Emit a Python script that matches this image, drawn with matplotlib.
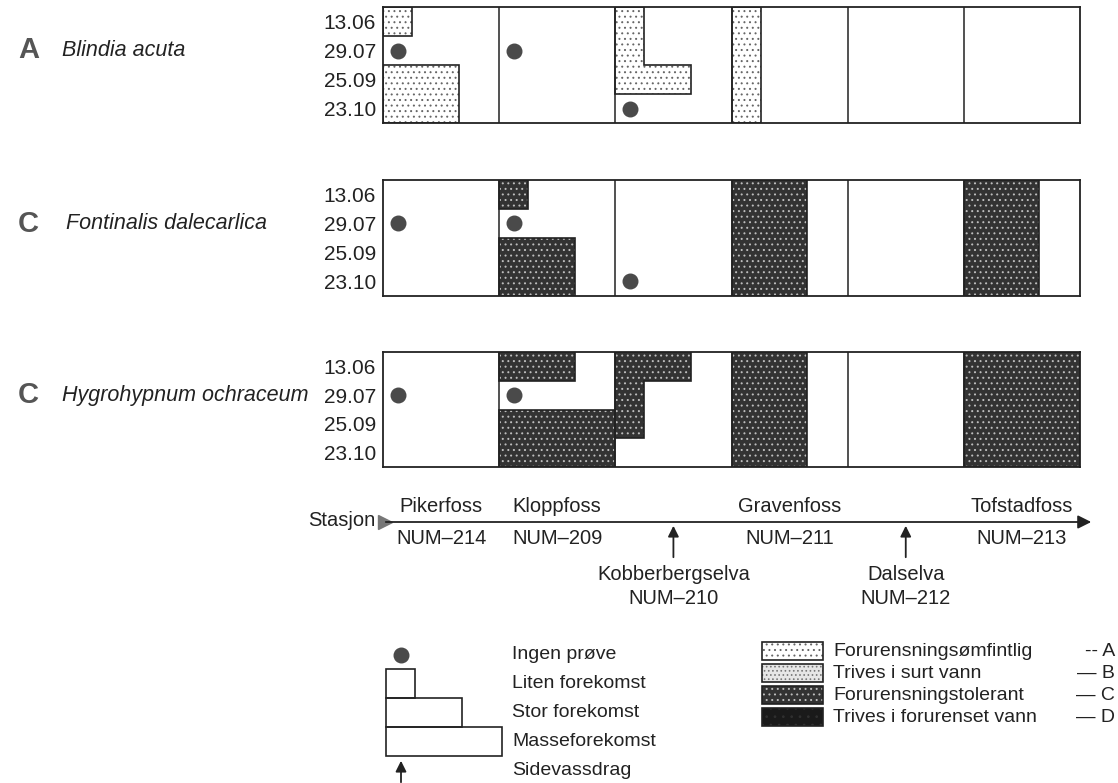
import matplotlib
matplotlib.use('Agg')
import matplotlib.pyplot as plt
from matplotlib.patches import Polygon, Rectangle
from matplotlib import transforms

plt.rcParams['font.family'] = ['Liberation Sans', 'DejaVu Sans']
plt.rcParams['hatch.linewidth'] = 0.7

# data
dates = ['13.06', '29.07', '25.09', '23.10']
stations = ['Pikerfoss', 'Kloppfoss', 'Kobberbergselva', 'Gravenfoss', 'Dalselva', 'Tofstadfoss']
codes = ['NUM\u2013214', 'NUM\u2013209', 'NUM\u2013210', 'NUM\u2013211', 'NUM\u2013212', 'NUM\u2013213']
side_stream = [False, False, True, False, True, False]

# level per station (rows = dates): 0 none, 1 liten, 2 stor, 3 masse, -1 ingen prøve
panel_cat = ['A', 'C', 'C']
species = ['Blindia acuta', 'Fontinalis dalecarlica', 'Hygrohypnum ochraceum']
blindia = [[1, -1, 2, 2], [0, -1, 0, 0], [1, 1, 2, -1], [1, 1, 1, 1], [0, 0, 0, 0], [0, 0, 0, 0]]
fontinalis = [[0, -1, 0, 0], [1, -1, 2, 2], [0, 0, 0, -1], [2, 2, 2, 2], [0, 0, 0, 0], [2, 2, 2, 2]]
hygro = [[0, -1, 0, 0], [2, -1, 3, 3], [2, 1, 1, 0], [2, 2, 2, 2], [0, 0, 0, 0], [3, 3, 3, 3]]
levels_all = [blindia, fontinalis, hygro]

size_labels = ['Ingen prøve', 'Liten forekomst', 'Stor forekomst', 'Masseforekomst', 'Sidevassdrag']
cat_labels = ['Forurensningsømfintlig', 'Trives i surt vann', 'Forurensningstolerant', 'Trives i forurenset vann']
cat_keys = ['A', 'B', 'C', 'D']
cat_suffix = ['-- A', '\u2014 B', '\u2014 C', '\u2014 D']

# styles
W, H = 1118, 783
widths = {1: 0.25, 2: 0.65, 3: 1.0}
fills = {
    'A': dict(fc='white', hatch='...', hc='#666666'),
    'B': dict(fc='#e6e6e6', hatch='....', hc='#777777'),
    'C': dict(fc='#333333', hatch='...', hc='#bdbdbd'),
    'D': dict(fc='#1a1a1a', hatch='..', hc='#303030'),
}
ink = '#222222'


def px_box(x0, y0, x1, y1):
    return [x0 / W, 1 - y1 / H, (x1 - x0) / W, (y1 - y0) / H]


def patterned(ax, pts, cat, lw=1.2):
    f = fills[cat]
    ax.add_patch(Polygon(pts, closed=True, facecolor=f['fc'], edgecolor=f['hc'],
                         lw=0, hatch=f['hatch']))
    ax.add_patch(Polygon(pts, closed=True, fill=False, edgecolor=ink, lw=lw))


fig = plt.figure(figsize=(W / 100, H / 100), dpi=100)

x_left, x_right = 383, 1080
col_w = (x_right - x_left) / len(stations)
panel_y = [(7, 123), (180, 296), (352, 467)]
label_x = [62, 66, 62]

for p, (y0, y1) in enumerate(panel_y):
    ax = fig.add_axes(px_box(x_left, y0, x_right, y1))
    ax.set_xlim(0, len(stations))
    ax.set_ylim(len(dates), 0)
    ax.set_xticks([])
    ax.set_yticks([i + 0.5 for i in range(len(dates))])
    ax.set_yticklabels(dates, fontsize=15, color=ink)
    ax.tick_params(axis='y', length=0, pad=5)
    for sp in ax.spines.values():
        sp.set_linewidth(1.3)
        sp.set_color(ink)
    for s in range(1, len(stations)):
        ax.axvline(s, color=ink, lw=1.1)

    lev = levels_all[p]
    cat = panel_cat[p]
    for s, col in enumerate(lev):
        r = 0
        while r < len(col):
            if col[r] > 0:
                r0 = r
                while r < len(col) and col[r] > 0:
                    r += 1
                pts = [(s, r0)]
                for k in range(r0, r):
                    pts += [(s + widths[col[k]], k), (s + widths[col[k]], k + 1)]
                pts.append((s, r))
                patterned(ax, pts, cat)
            else:
                r += 1
        for r, v in enumerate(col):
            if v < 0:
                ax.scatter(s + 0.13, r + 0.5, s=110, color='#4a4a4a', zorder=5)

    tr = transforms.blended_transform_factory(fig.transFigure, ax.transData)
    ax.text(18 / W, 1.5, cat, transform=tr, fontsize=21, fontweight='bold',
            color='#555555', va='center', ha='left')
    ax.text(label_x[p] / W, 1.5, species[p], transform=tr, fontsize=15.5,
            style='italic', color=ink, va='center', ha='left')

# overlay in pixel units for station axis and legends
ov = fig.add_axes([0, 0, 1, 1])
ov.set_xlim(0, W)
ov.set_ylim(H, 0)
ov.axis('off')

y_line = 522
ov.annotate('', xy=(x_right + 14, y_line), xytext=(x_left, y_line),
            arrowprops=dict(arrowstyle='-|>', lw=1.3, color=ink, mutation_scale=20))
ov.plot(x_left + 2, y_line, marker='>', ms=10, color='#777777')
ov.text(x_left - 8, y_line - 2, 'Stasjon', fontsize=14.5, color=ink, ha='right', va='center')

for i, (name, code) in enumerate(zip(stations, codes)):
    xc = x_left + (i + 0.5) * col_w
    if side_stream[i]:
        ov.annotate('', xy=(xc, y_line + 1), xytext=(xc, y_line + 38),
                    arrowprops=dict(arrowstyle='-|>', lw=1.3, color=ink, mutation_scale=16))
        ov.text(xc, 575, name, fontsize=14.5, color=ink, ha='center', va='center')
        ov.text(xc, 599, code, fontsize=14.5, color=ink, ha='center', va='center')
    else:
        ov.text(xc, 507, name, fontsize=14.5, color=ink, ha='center', va='center')
        ov.text(xc, 538, code, fontsize=14.5, color=ink, ha='center', va='center')

# size legend
lx, ly, row_h = 386, 640, 29
ov.scatter(lx + 15, ly + row_h * 0.5, s=110, color='#4a4a4a')
for k in (1, 2, 3):
    ov.add_patch(Rectangle((lx, ly + row_h * k), col_w * widths[k], row_h,
                           fill=False, edgecolor=ink, lw=1.2))
ov.annotate('', xy=(lx + 15, ly + row_h * 4 + 2), xytext=(lx + 15, H + 2),
            arrowprops=dict(arrowstyle='-|>', lw=1.3, color=ink, mutation_scale=16))
for k, lab in enumerate(size_labels):
    ov.text(512, ly + row_h * (k + 0.5), lab, fontsize=14, color=ink, va='center', ha='left')

# category legend
cx, cy, c_step = 762, 651, 22
for k, key in enumerate(cat_keys):
    yc = cy + k * c_step
    pts = [(cx, yc - 9), (cx + 61, yc - 9), (cx + 61, yc + 9), (cx, yc + 9)]
    patterned(ov, pts, key, lw=1.2)
    ov.text(833, yc, cat_labels[k], fontsize=14, color=ink, va='center', ha='left')
    ov.text(1115, yc, cat_suffix[k], fontsize=14, color=ink, va='center', ha='right')

fig.savefig('out.png', dpi=100)
